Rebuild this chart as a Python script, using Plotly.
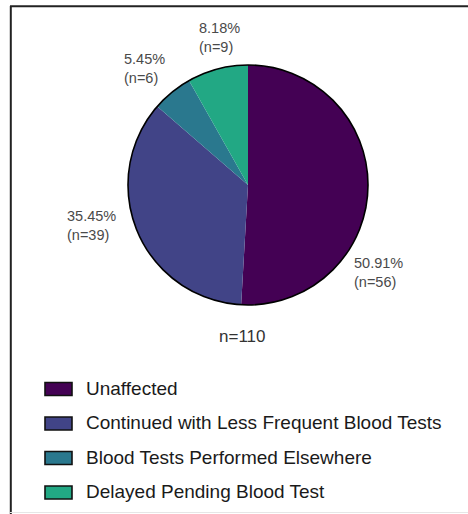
import plotly.graph_objects as go

W, H = 468, 514

# ---- data ----
categories = [
    "Unaffected",
    "Continued with Less Frequent Blood Tests",
    "Blood Tests Performed Elsewhere",
    "Delayed Pending Blood Test",
]
counts = [56, 39, 6, 9]
colors = ["#440154", "#414487", "#2A788E", "#22A884"]
total = sum(counts)

# ---- layout helpers (pixel -> paper) ----
def px(x):
    return x / W

def py(y):
    return 1 - y / H

FONT = "Liberation Sans, Arial, sans-serif"

# pie placement (pixels)
cx, cy, r = 248, 185, 120

fig = go.Figure()
fig.add_trace(go.Pie(
    labels=categories,
    values=counts,
    marker=dict(colors=colors, line=dict(width=0)),
    sort=False,
    direction="clockwise",
    rotation=0,
    textinfo="none",
    hoverinfo="label+value+percent",
    showlegend=False,
    domain=dict(x=[px(cx - r), px(cx + r)], y=[py(cy + r), py(cy - r)]),
))
# outer outline of the pie
fig.add_trace(go.Pie(
    values=[1],
    labels=["outline"],
    marker=dict(colors=["rgba(0,0,0,0)"], line=dict(color="#000000", width=1.6)),
    textinfo="none",
    hoverinfo="skip",
    showlegend=False,
    sort=False,
    domain=dict(x=[px(cx - r), px(cx + r)], y=[py(cy + r), py(cy - r)]),
))

annotations = []
# slice labels (left x, centre y in pixels)
label_pos = [(352, 272), (65, 225), (122, 69), (197, 38)]
for (lx, ly), c in zip(label_pos, counts):
    annotations.append(dict(
        x=px(lx), y=py(ly), xref="paper", yref="paper",
        xanchor="left", yanchor="middle", align="left", showarrow=False,
        text=f"{c / total * 100:.2f}%<br>(n={c})",
        font=dict(family=FONT, size=14.5, color="#4a4a4a"),
    ))

annotations.append(dict(
    x=px(242), y=py(336), xref="paper", yref="paper",
    xanchor="center", yanchor="middle", showarrow=False,
    text=f"n={total}",
    font=dict(family=FONT, size=17, color="#333333"),
))

shapes = []
# legend
for i, (name, col) in enumerate(zip(categories, colors)):
    yc = 389 + i * 34.5
    shapes.append(dict(
        type="rect", xref="paper", yref="paper",
        x0=px(45), x1=px(72), y0=py(yc + 6.5), y1=py(yc - 6.5),
        fillcolor=col, line=dict(color="#111111", width=1.6),
    ))
    annotations.append(dict(
        x=px(84), y=py(yc - 1), xref="paper", yref="paper",
        xanchor="left", yanchor="middle", showarrow=False,
        text=name,
        font=dict(family=FONT, size=19, color="#1a1a1a"),
    ))

# frame
shapes.append(dict(type="line", xref="paper", yref="paper",
                   x0=px(10.8), x1=px(10.8), y0=py(6), y1=py(514),
                   line=dict(color="#222222", width=2)))
shapes.append(dict(type="line", xref="paper", yref="paper",
                   x0=px(10), x1=px(470), y0=py(6.2), y1=py(6.2),
                   line=dict(color="#222222", width=2)))
shapes.append(dict(type="line", xref="paper", yref="paper",
                   x0=px(10), x1=px(470), y0=py(512.5), y1=py(512.5),
                   line=dict(color="#e6e6e6", width=1)))

fig.update_layout(
    width=W, height=H,
    margin=dict(l=0, r=0, t=0, b=0),
    paper_bgcolor="white",
    plot_bgcolor="white",
    showlegend=False,
    annotations=annotations,
    shapes=shapes,
)

fig.write_html(
    "out.html",
    config={"displayModeBar": False},
    post_script="document.body.style.margin='0';document.body.style.overflow='hidden';",
)
